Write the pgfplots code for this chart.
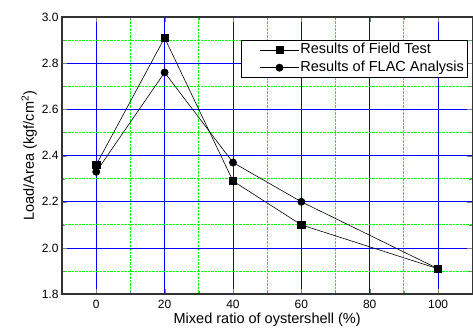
\documentclass[border=0pt]{standalone}
\usepackage{fontspec}
\setmainfont{Liberation Sans}
\usepackage{pgfplots}
\pgfplotsset{compat=1.18}
\usetikzlibrary{calc}
\begin{document}
\begin{tikzpicture}
\begin{axis}[
  scale only axis, width=410pt, height=277pt,
  xmin=-10, xmax=110, ymin=1.8, ymax=3.0,
  xtick={0,20,40,60,80,100}, ytick={1.8,2.0,2.2,2.4,2.6,2.8,3.0},
  minor xtick={-10,10,30,50,70,90,110}, minor ytick={1.9,2.1,2.3,2.5,2.7,2.9},
  grid=both,
  major grid style={draw=blue, line width=0.9pt},
  minor grid style={draw=green, densely dotted, line width=0.9pt},
  tick align=inside, tick pos=both,
  major tick length=5pt, minor tick length=3pt,
  axis line style={black!80, line width=1.4pt},
  yticklabel style={/pgf/number format/.cd, fixed, fixed zerofill, precision=1},
  /pgf/number format/assume math mode=true,
  ticklabel style={font=\fontsize{12}{14}\selectfont},
  label style={font=\fontsize{14.5}{16}\selectfont},
  xlabel={Mixed ratio of oystershell (\%)},
  ylabel={Load/Area (kgf/cm\textsuperscript{2})},
  xticklabel style={yshift=-2pt},
  xlabel style={yshift=2pt},
  ylabel style={yshift=-2pt},
  legend style={at={(0.988,0.917)}, anchor=north east, draw=black, line width=0.8pt,
    font=\fontsize{14.5}{16}\selectfont, inner xsep=2pt, inner ysep=2pt, row sep=2pt,
    nodes={inner sep=1pt, text height=10.5pt, text depth=3pt}},
  legend cell align=left,
  legend image code/.code={\path (0pt,0pt);
    \draw[mark repeat=2,mark phase=2,#1] plot coordinates {(16pt,0pt) (35.5pt,0pt) (55pt,0pt)};},
]
\addplot[black, line width=0.6pt, mark=square*, mark size=3.6pt, mark options={solid}]
  coordinates {(0,2.36) (20,2.91) (40,2.29) (60,2.10) (100,1.91)};
\addlegendentry{Results of Field Test}
\addplot[black, line width=0.6pt, mark=*, mark size=3.6pt, mark options={solid}]
  coordinates {(0,2.33) (20,2.76) (40,2.37) (60,2.20) (100,1.91)};
\addlegendentry{Results of FLAC Analysis}
\end{axis}
\path ($(current axis.south west)+(-62pt,-41pt)$) rectangle ($(current axis.north east)+(0pt,17pt)$);
\end{tikzpicture}
\end{document}
